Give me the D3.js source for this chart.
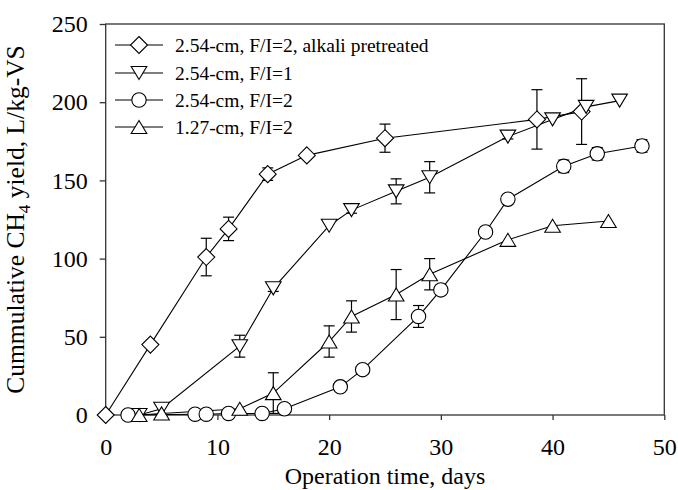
<!DOCTYPE html>
<html><head><meta charset="utf-8">
<script src="https://cdn.jsdelivr.net/npm/d3@7"></script>
<style>body{margin:0;background:#fff}svg{display:block}text{font-family:"Liberation Serif","Times New Roman",serif;fill:#000}</style>
</head><body><svg id="c" width="678" height="490"></svg>
<script>
const seriesNames = ["2.54-cm, F/I=2, alkali pretreated","2.54-cm, F/I=1","2.54-cm, F/I=2","1.27-cm, F/I=2"];
const seriesMarkers = ["diamond","down","circle","up"];

const alkaliDays = [0, 4, 9, 11, 14.5, 18, 25, 38.6, 42.6];
const alkaliYield = [0, 45, 101, 119, 154, 166, 177, 189, 194];
const alkaliErr = [0, 0, 12, 7.5, 4, 0, 9, 19, 21];

const fi1Days = [3, 5, 12, 15, 20, 22, 26, 29, 36, 40, 43, 46];
const fi1Yield = [0, 4, 44, 81, 121, 131, 143, 152, 178, 189, 197, 201];
const fi1Err = [0, 0, 7, 2, 0, 2, 8, 10, 1.5, 0, 0, 0];

const fi2Days = [2, 8, 9, 11, 14, 16, 21, 23, 28, 30, 34, 36, 41, 44, 48];
const fi2Yield = [0, 0.5, 0.5, 1, 1, 4, 18, 29, 63, 80, 117, 138, 159, 167, 172];
const fi2Err = [0, 0, 0, 0, 0, 0, 2, 3, 7, 3, 0, 0, 4, 4, 4];

const smallDays = [3, 5, 12, 15, 20, 22, 26, 29, 36, 40, 45];
const smallYield = [0, 1, 4, 14, 47, 63, 77, 90, 112, 121, 124];
const smallErr = [0, 0, 0, 13, 10, 10, 16, 10, 0, 0, 0];

const xTicks = [0, 10, 20, 30, 40, 50];
const yTicks = [0, 50, 100, 150, 200, 250];

const series = [
  {days: alkaliDays, y: alkaliYield, err: alkaliErr},
  {days: fi1Days, y: fi1Yield, err: fi1Err},
  {days: fi2Days, y: fi2Yield, err: fi2Err},
  {days: smallDays, y: smallYield, err: smallErr}
].map((s, i) => ({name: seriesNames[i], marker: seriesMarkers[i],
  pts: s.days.map((d, j) => ({x: d, y: s.y[j], e: s.err[j]}))}));

const svg = d3.select("#c");
const L = 105.7, R = 664.3, T = 24, B = 415;
const x = d3.scaleLinear().domain([0, 50]).range([L, R]);
const y = d3.scaleLinear().domain([0, 250]).range([B, T]);

function markerPath(type) {
  if (type === "diamond") return "M0,-8.5L8.5,0L0,8.5L-8.5,0Z";
  if (type === "down") return "M-7.8,-6.5L7.8,-6.5L0,6.5Z";
  if (type === "up") return "M-7.8,6.5L7.8,6.5L0,-6.5Z";
  return "M7.2,0A7.2,7.2 0 1,1 -7.2,0A7.2,7.2 0 1,1 7.2,0Z";
}

// axes
const xAxis = svg.append("g").attr("transform", `translate(0,${B})`)
  .call(d3.axisBottom(x).tickValues(xTicks).tickSize(5).tickPadding(18).tickSizeOuter(0));
const yAxis = svg.append("g").attr("transform", `translate(${L},0)`)
  .call(d3.axisLeft(y).tickValues(yTicks).tickSize(6).tickPadding(12).tickSizeOuter(0));
[xAxis, yAxis].forEach(g => {
  g.attr("font-family", null).attr("font-size", null);
  g.selectAll("text").style("font-size", "24px").style("font-family", '"Liberation Serif",serif');
  g.selectAll("line").attr("stroke", "#333").attr("stroke-width", 1.3);
  g.select(".domain").remove();
});
svg.append("rect").attr("x", L).attr("y", T).attr("width", R - L).attr("height", B - T)
  .attr("fill", "none").attr("stroke", "#333").attr("stroke-width", 1.3);

// axis titles
svg.append("text").attr("x", (L + R) / 2).attr("y", 484).attr("text-anchor", "middle")
  .style("font-size", "24px").text("Operation time, days");
const yl = svg.append("text").attr("transform", `translate(24,${(T + B) / 2}) rotate(-90)`)
  .attr("text-anchor", "middle").style("font-size", "25.5px");
yl.append("tspan").text("Cummulative CH");
yl.append("tspan").attr("dy", 6).style("font-size", "17px").text("4");
yl.append("tspan").attr("dy", -6).text(" yield, L/kg-VS");

const line = d3.line().x(d => x(d.x)).y(d => y(d.y));
const plot = svg.append("g");
series.forEach(s => {
  plot.append("path").attr("d", line(s.pts)).attr("fill", "none").attr("stroke", "#000").attr("stroke-width", 1.1);
});
series.forEach(s => {
  const eb = s.pts.filter(p => p.e > 0);
  const g = plot.append("g").attr("stroke", "#000").attr("stroke-width", 1.2);
  eb.forEach(p => {
    const cx = x(p.x), y1 = y(p.y + p.e), y0 = y(Math.max(0, p.y - p.e));
    g.append("line").attr("x1", cx).attr("x2", cx).attr("y1", y1).attr("y2", y0);
    g.append("line").attr("x1", cx - 5.5).attr("x2", cx + 5.5).attr("y1", y1).attr("y2", y1);
    if (p.y - p.e > 0) g.append("line").attr("x1", cx - 5.5).attr("x2", cx + 5.5).attr("y1", y0).attr("y2", y0);
  });
});
series.forEach(s => {
  plot.append("g").selectAll("path").data(s.pts).join("path")
    .attr("transform", d => `translate(${x(d.x)},${y(d.y)})`)
    .attr("d", markerPath(s.marker)).attr("fill", "#fff").attr("stroke", "#000").attr("stroke-width", 1.1);
});

// legend
const legY = [45, 73, 100, 127];
const leg = svg.append("g");
series.forEach((s, i) => {
  const g = leg.append("g").attr("transform", `translate(0,${legY[i]})`);
  g.append("line").attr("x1", 115).attr("x2", 163).attr("stroke", "#000").attr("stroke-width", 1.1);
  g.append("path").attr("transform", "translate(139,0)").attr("d", markerPath(s.marker))
    .attr("fill", "#fff").attr("stroke", "#000").attr("stroke-width", 1.1);
  g.append("text").attr("x", 175).attr("y", 7).style("font-size", "19.5px").text(s.name);
});
</script></body></html>
